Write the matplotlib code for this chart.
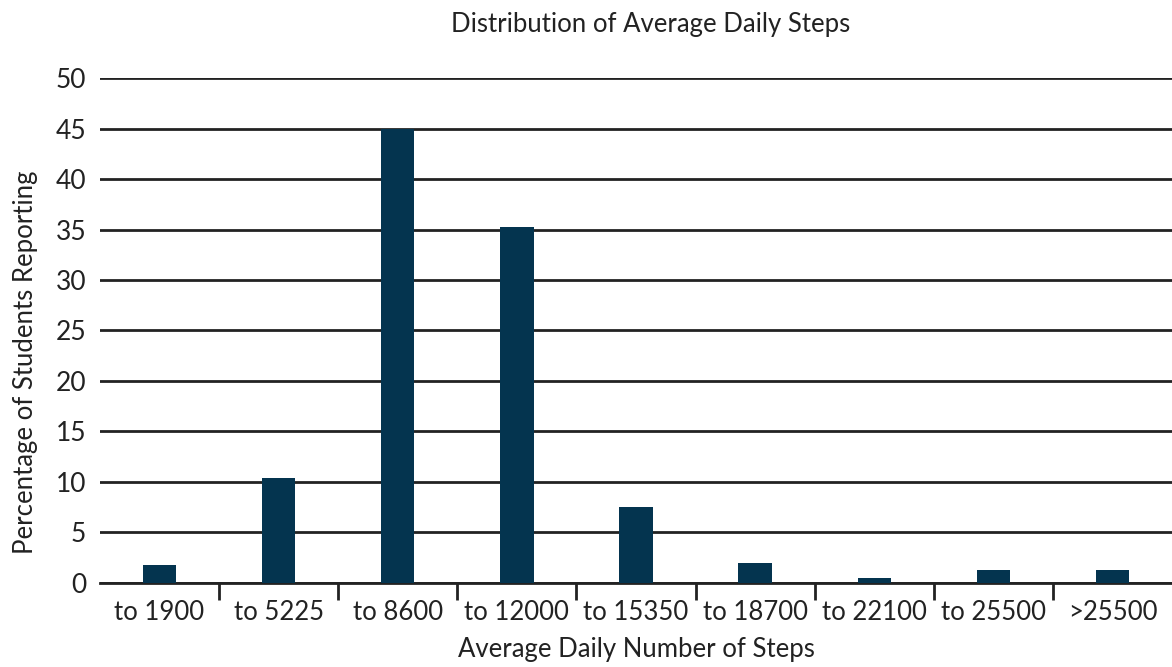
import matplotlib.pyplot as plt
import numpy as np

categories = ['to 1900', 'to 5225', 'to 8600', 'to 12000', 'to 15350',
              'to 18700', 'to 22100', 'to 25500', '>25500']
percent = [1.8, 10.4, 45.0, 35.2, 7.5, 2.0, 0.5, 1.3, 1.3]
yticks = [0, 5, 10, 15, 20, 25, 30, 35, 40, 45, 50]

plt.rcParams['font.family'] = ['Lato', 'DejaVu Sans']

fig = plt.figure(figsize=(11.72, 6.67), dpi=100)
ax = fig.add_axes([0.0853, 0.126, 0.9147, 0.757])

x = np.arange(len(categories))
ax.bar(x, percent, width=0.28, color='#04344f', zorder=3)

ax.set_ylim(0, 50)
ax.set_xlim(-0.5, len(categories) - 0.5)
ax.set_yticks(yticks)
ax.yaxis.grid(True, color='#222222', linewidth=2, zorder=1)
ax.tick_params(axis='y', length=0, labelsize=19, pad=10, colors='#222222')

ax.set_xticks(x)
ax.set_xticklabels(categories)
ax.tick_params(axis='x', which='major', length=0, labelsize=18.5, pad=12, colors='#222222')
ax.set_xticks(x[:-1] + 0.5, minor=True)
ax.tick_params(axis='x', which='minor', length=12, width=2, color='#222222')

for s in ['top', 'right', 'left']:
    ax.spines[s].set_visible(False)
ax.spines['bottom'].set_linewidth(2)
ax.spines['bottom'].set_color('#222222')

ax.set_xlabel('Average Daily Number of Steps', fontsize=18.5, color='#222222', labelpad=9)
ax.set_ylabel('Percentage of Students Reporting', fontsize=18.5, color='#222222')
ax.yaxis.set_label_coords(-0.058, 0.437)
fig.text(0.555, 0.963, 'Distribution of Average Daily Steps', ha='center', va='center',
         fontsize=18.5, color='#222222')

fig.savefig('out.png', dpi=100)
